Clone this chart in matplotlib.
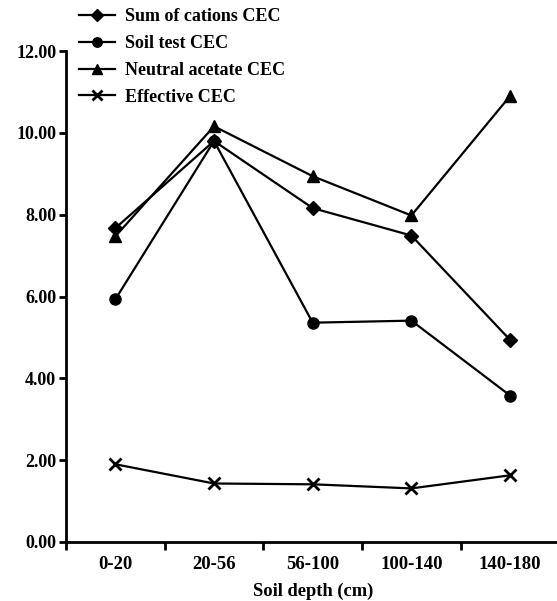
import matplotlib
matplotlib.use("Agg")
import matplotlib.pyplot as plt
import numpy as np

categories = ["0-20", "20-56", "56-100", "100-140", "140-180"]
sum_cations = [7.67, 9.80, 8.16, 7.49, 4.94]
soil_test = [5.93, 9.80, 5.36, 5.41, 3.58]
neutral_acetate = [7.47, 10.16, 8.94, 7.98, 10.90]
effective = [1.90, 1.43, 1.41, 1.31, 1.63]
yticks = [0, 2, 4, 6, 8, 10, 12]

plt.rcParams['font.family'] = ['Liberation Serif', 'DejaVu Serif']
plt.rcParams['font.size'] = 13

W, H = 557, 601
fig = plt.figure(figsize=(W / 100, H / 100), dpi=100)
ax = fig.add_axes([66 / W, 1 - 542 / H, (559.4 - 66) / W, (542 - 51) / H])

x = np.arange(len(categories))
lw = 1.6
ax.plot(x, sum_cations, color='black', lw=lw, marker='D', ms=7.5, label='Sum of cations CEC')
ax.plot(x, soil_test, color='black', lw=lw, marker='o', ms=8, label='Soil test CEC')
ax.plot(x, neutral_acetate, color='black', lw=lw, marker='^', ms=8.5, label='Neutral acetate CEC')
ax.plot(x, effective, color='black', lw=lw, marker='x', ms=8, mew=2, label='Effective CEC')

ax.set_xlim(-0.5, 4.5)
ax.set_ylim(0, 12)
ax.set_yticks(yticks)
ax.set_yticklabels([f"{v:.2f}" for v in yticks], fontweight='bold', fontsize=13)
ax.set_xticks(x - 0.5)
ax.set_xticklabels([])
ax.set_xticks(x, minor=True)
ax.set_xticklabels(categories, minor=True, fontweight='bold', fontsize=13.5)
ax.tick_params(axis='x', which='minor', length=0, pad=10)
ax.tick_params(axis='x', which='major', length=6, width=2, direction='out')
ax.tick_params(axis='y', length=5, width=2, direction='out', pad=2)
for s in ['top', 'right']:
    ax.spines[s].set_visible(False)
for s in ['left', 'bottom']:
    ax.spines[s].set_linewidth(2)
ax.set_xlabel('Soil depth (cm)', fontweight='bold', fontsize=13.3, labelpad=7)

handles, labels = ax.get_legend_handles_labels()
leg = fig.legend(handles, labels, loc='upper left',
                 bbox_to_anchor=(79 / W, 1 - 8 / H), frameon=False,
                 borderpad=0, borderaxespad=0, handlelength=2.0,
                 handletextpad=0.55, labelspacing=0.55, numpoints=1,
                 markerscale=0.85,
                 prop={'weight': 'bold', 'size': 13})

fig.savefig('out.png', dpi=100)
